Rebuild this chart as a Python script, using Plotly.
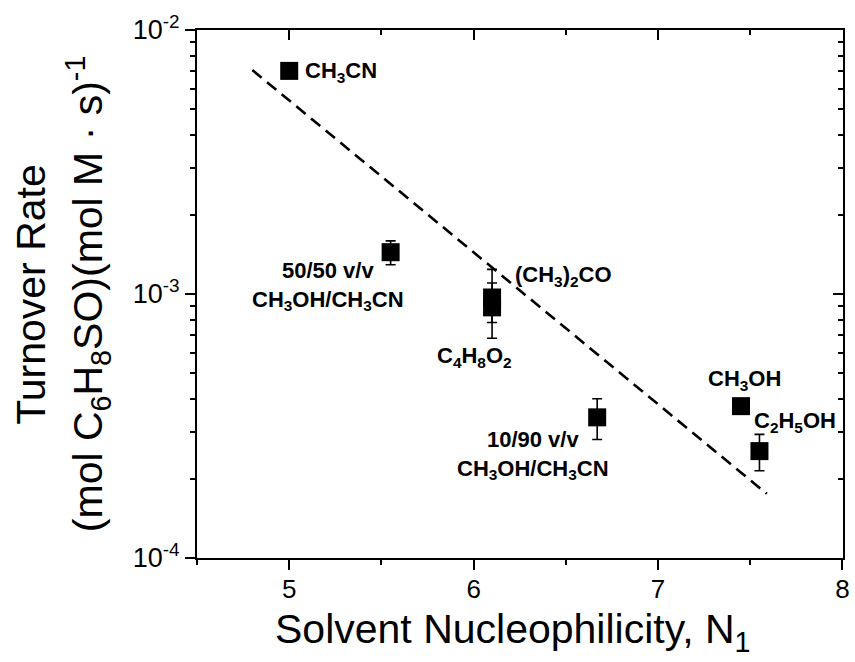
import numpy as np
import plotly.graph_objects as go

# ---- data ----
solvents = ["CH3CN", "50/50 v/v", "(CH3)2CO", "C4H8O2", "10/90 v/v", "CH3OH", "C2H5OH"]
nucleophilicity = [5.00, 5.55, 6.10, 6.10, 6.67, 7.45, 7.55]
turnover = [7.0e-3, 1.44e-3, 9.7e-4, 8.9e-4, 3.41e-4, 3.76e-4, 2.54e-4]
err_plus = [0.0, 1.5e-4, 2.7e-4, 2.1e-4, 0.6e-4, 0.0, 0.4e-4]
err_minus = [0.0, 1.5e-4, 1.9e-4, 2.1e-4, 0.6e-4, 0.0, 0.4e-4]

fit_x = [4.80, 7.59]
fit_y = [7.05e-3, 1.75e-4]

x_ticks = [5, 6, 7, 8]
x_tick_text = ["5", "6", "7", "8"]
x_minor = [4.5, 5.5, 6.5, 7.5]
y_ticks = [1e-4, 1e-3, 1e-2]
y_tick_text = ["10<sup>-4</sup>", "10<sup>-3</sup>", "10<sup>-2</sup>"]
y_minor = [m * d for d in [1e-4, 1e-3] for m in range(2, 10)]

labels = [
    ("<b>CH<sub>3</sub>CN</b>", 5.073, 6.94e-3, "left"),
    ("<b>50/50 v/v<br>CH<sub>3</sub>OH/CH<sub>3</sub>CN</b>", 5.213, 1.077e-3, "center"),
    ("<b>(CH<sub>3</sub>)<sub>2</sub>CO</b>", 6.215, 1.17e-3, "left"),
    ("<b>C<sub>4</sub>H<sub>8</sub>O<sub>2</sub></b>", 6.006, 5.77e-4, "center"),
    ("<b>10/90 v/v<br>CH<sub>3</sub>OH/CH<sub>3</sub>CN</b>", 6.322, 2.45e-4, "center"),
    ("<b>CH<sub>3</sub>OH</b>", 7.469, 4.72e-4, "center"),
    ("<b>C<sub>2</sub>H<sub>5</sub>OH</b>", 7.745, 3.27e-4, "center"),
]

FONT = "Liberation Sans, Arial, sans-serif"
title_font = dict(family=FONT, size=41, color="black")

W, H = 855, 662
L, R, T, B = 197, 5, 30, 104
pw, ph = W - L - R, H - T - B


def px_x(px):
    return (px - L) / pw


def px_y(py):
    return (H - B - py) / ph


fig = go.Figure()

fig.add_trace(go.Scatter(
    x=fit_x, y=fit_y, mode="lines",
    line=dict(color="black", width=2.6, dash="12px,7px"),
    showlegend=False, hoverinfo="skip",
))

fig.add_trace(go.Scatter(
    x=nucleophilicity, y=turnover, mode="markers",
    marker=dict(symbol="square", size=18, color="black"),
    error_y=dict(type="data", symmetric=False, array=err_plus, arrayminus=err_minus,
                 color="black", thickness=1.6, width=5),
    text=solvents, showlegend=False,
))

# invisible trace for the mirrored axes
fig.add_trace(go.Scatter(x=[6], y=[1e-3], xaxis="x2", yaxis="y2", mode="markers",
                         marker=dict(opacity=0), showlegend=False, hoverinfo="skip"))

for text, lx, ly, anchor in labels:
    fig.add_annotation(x=lx, y=np.log10(ly), xref="x", yref="y", text=text,
                       showarrow=False, xanchor=anchor, yanchor="middle",
                       font=dict(family=FONT, size=22, color="black"))

# axis titles
fig.add_annotation(x=px_x(29), y=px_y(294), xref="paper", yref="paper",
                   text="Turnover Rate", showarrow=False, textangle=-90,
                   xanchor="center", yanchor="middle", font=title_font)
fig.add_annotation(x=px_x(87), y=px_y(294), xref="paper", yref="paper",
                   text="(mol C<sub>6</sub>H<sub>8</sub>SO)(mol M · s)<sup>-1</sup>",
                   showarrow=False, textangle=-90,
                   xanchor="center", yanchor="middle", font=title_font)
fig.add_annotation(x=px_x(516), y=px_y(632), xref="paper", yref="paper",
                   text="Solvent Nucleophilicity, N<sub>1</sub>", showarrow=False,
                   xanchor="center", yanchor="middle", font=title_font)

axis_common = dict(showgrid=False, zeroline=False, linecolor="black", linewidth=2,
                   tickcolor="black", tickwidth=2)

fig.update_layout(
    width=W, height=H,
    margin=dict(l=L, r=R, t=T, b=B, pad=0),
    paper_bgcolor="white", plot_bgcolor="white",
    font=dict(family=FONT, color="black"),
    xaxis=dict(range=[4.5, 8.003], tickvals=x_ticks, ticktext=x_tick_text,
               ticks="outside", ticklen=10, ticklabeloverflow="allow",
               ticklabelstandoff=-3,
               showline=True, tickfont=dict(size=26),
               minor=dict(tickvals=x_minor, ticks="outside", ticklen=5,
                          tickwidth=2, tickcolor="black"),
               **axis_common),
    yaxis=dict(type="log", range=[-4, -2], tickvals=y_ticks, ticktext=y_tick_text,
               ticks="outside", ticklen=10, showline=True, tickfont=dict(size=27),
               minor=dict(tickvals=y_minor, ticks="outside", ticklen=5,
                          tickwidth=2, tickcolor="black"),
               **axis_common),
    xaxis2=dict(overlaying="x", side="top", range=[4.5, 8.003], tickvals=x_ticks,
                ticks="inside", ticklen=10, showline=True, showticklabels=False,
                minor=dict(tickvals=x_minor, ticks="inside", ticklen=5,
                           tickwidth=2, tickcolor="black"),
                anchor="y", **axis_common),
    yaxis2=dict(overlaying="y", side="right", type="log", range=[-4, -2], tickvals=y_ticks,
                ticks="inside", ticklen=10, showline=True, showticklabels=False,
                minor=dict(tickvals=y_minor, ticks="inside", ticklen=5,
                           tickwidth=2, tickcolor="black"),
                anchor="x", **axis_common),
)

fig.write_html("out.html")
